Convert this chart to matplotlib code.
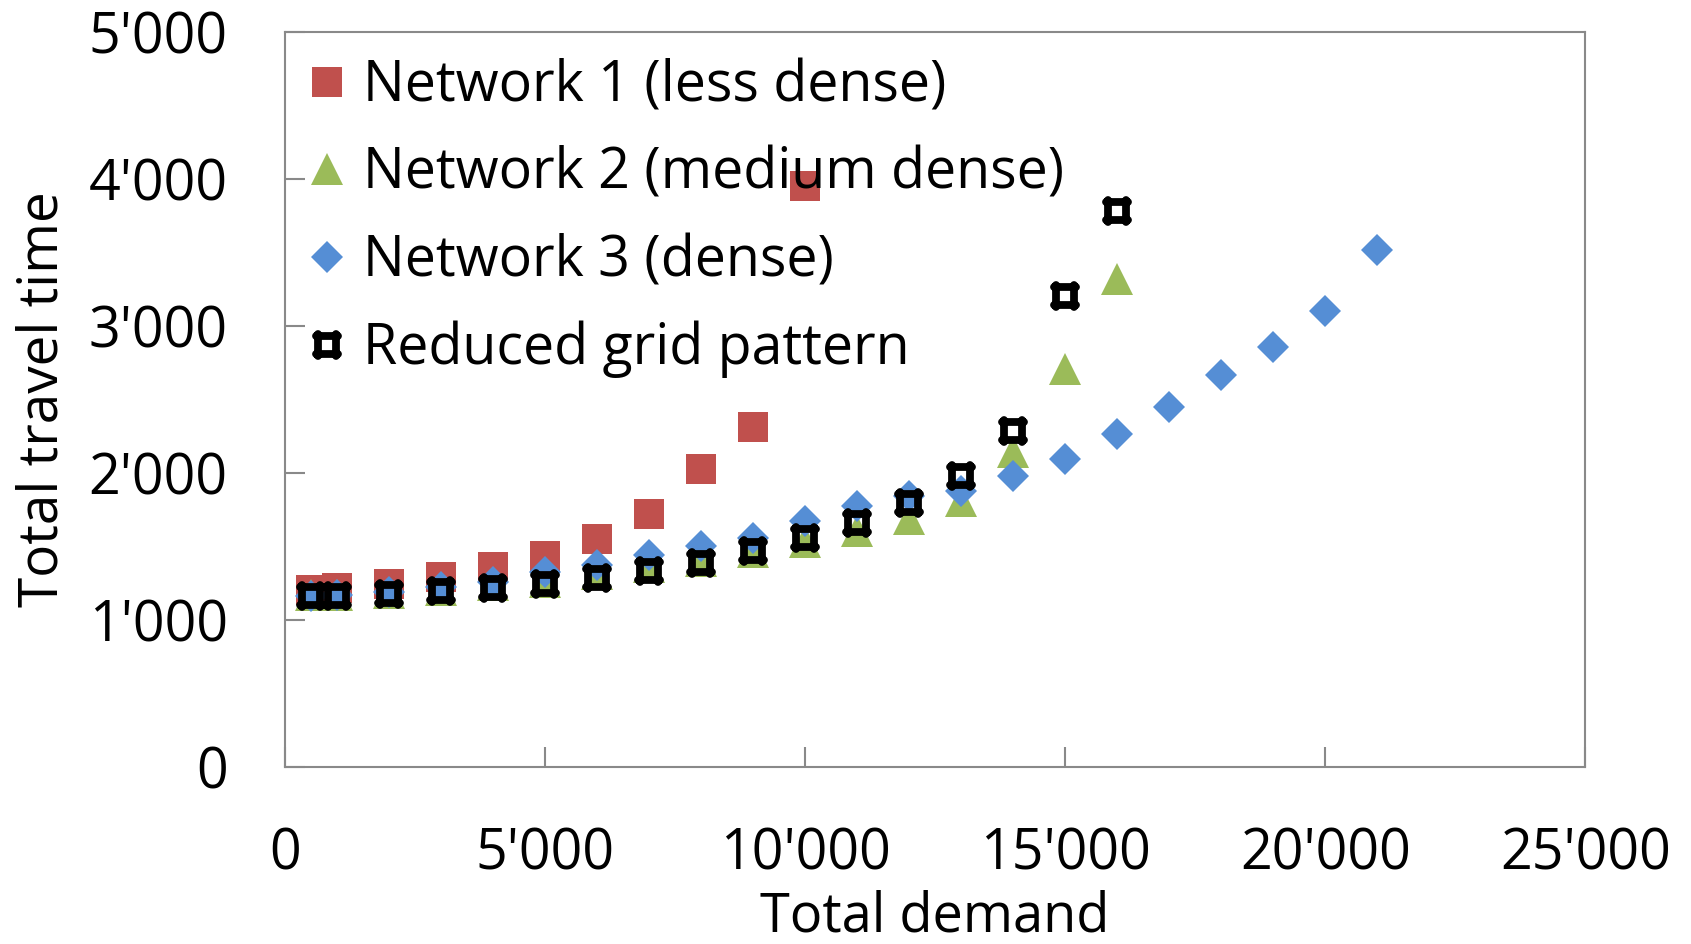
import matplotlib
matplotlib.use("Agg")
import matplotlib.pyplot as plt
from matplotlib.path import Path
from matplotlib.markers import MarkerStyle
from matplotlib.ticker import FuncFormatter

# Total demand (x) and total travel time (y) per network variant
demand_n1 = [500, 1000, 2000, 3000, 4000, 5000, 6000, 7000, 8000, 9000, 10000]
time_n1 = [1205, 1220, 1245, 1294, 1360, 1435, 1551, 1718, 2029, 2313, 3951]

demand_n2 = [500, 1000, 2000, 3000, 4000, 5000, 6000, 7000, 8000, 9000, 10000,
             11000, 12000, 13000, 14000, 15000, 16000]
time_n2 = [1172, 1172, 1185, 1205, 1235, 1258, 1314, 1360, 1398, 1462, 1530,
           1602, 1688, 1808, 2140, 2705, 3324]

demand_n3 = [500, 1000, 2000, 3000, 4000, 5000, 6000, 7000, 8000, 9000, 10000,
             11000, 12000, 13000, 14000, 15000, 16000, 17000, 18000, 19000,
             20000, 21000]
time_n3 = [1164, 1170, 1189, 1221, 1258, 1324, 1377, 1443, 1506, 1558, 1672,
           1779, 1843, 1875, 1982, 2097, 2266, 2448, 2666, 2859, 3105, 3518]

demand_grid = [500, 1000, 2000, 3000, 4000, 5000, 6000, 7000, 8000, 9000, 10000,
               11000, 12000, 13000, 14000, 15000, 16000]
time_grid = [1166, 1166, 1179, 1200, 1217, 1244, 1282, 1330, 1387, 1466, 1557,
             1657, 1798, 1978, 2288, 3205, 3784]

labels = ["Network 1 (less dense)", "Network 2 (medium dense)",
          "Network 3 (dense)", "Reduced grid pattern"]

x_ticks = [0, 5000, 10000, 15000, 20000, 25000]
y_ticks = [0, 1000, 2000, 3000, 4000, 5000]

FONT = "Open Sans"
plt.rcParams["font.family"] = [FONT, "DejaVu Sans"]

fig = plt.figure(figsize=(16.91, 9.44), dpi=100)
ax = fig.add_axes([284.7 / 1691, (944 - 766.8) / 944,
                   (1585.4 - 284.7) / 1691, (766.8 - 32.4) / 944])

# Hash-like marker: thick square outline whose sides overshoot the corners
h, e = 8.75, 10.5
verts = [(-h, -e), (-h, e), (h, -e), (h, e),
         (-e, -h), (e, -h), (-e, h), (e, h)]
codes = [Path.MOVETO, Path.LINETO] * 4
grid_marker = MarkerStyle(Path(verts, codes), capstyle="round")

ax.plot(demand_n1, time_n1, linestyle="none", marker="s", markersize=22,
        color="#C0504D", markeredgewidth=0, label=labels[0])
ax.plot(demand_n2, time_n2, linestyle="none", marker="^", markersize=23.5,
        color="#9BBB59", markeredgewidth=0, label=labels[1])
ax.plot(demand_n3, time_n3, linestyle="none", marker="D", markersize=16.8,
        color="#558ED5", markeredgewidth=0, label=labels[2])
ax.plot(demand_grid, time_grid, linestyle="none", marker=grid_marker,
        markersize=15.2, markerfacecolor="none", markeredgecolor="black",
        markeredgewidth=5.6, label=labels[3])

ax.set_xlim(x_ticks[0], x_ticks[-1])
ax.set_ylim(y_ticks[0], y_ticks[-1])
ax.set_xticks(x_ticks)
ax.set_yticks(y_ticks)
fmt = FuncFormatter(lambda v, _: f"{int(v):,}".replace(",", "'"))
ax.xaxis.set_major_formatter(fmt)
ax.yaxis.set_major_formatter(fmt)

spine_color = "#898989"
for s in ax.spines.values():
    s.set_color(spine_color)
    s.set_linewidth(1.5)
ax.tick_params(axis="both", direction="in", length=14.5, width=1.5,
               color=spine_color, labelsize=40, labelcolor="black")
ax.tick_params(axis="y", pad=41)
ax.tick_params(axis="x", pad=43)

ax.set_xlabel("Total demand", fontsize=39, labelpad=4)
ax.set_ylabel("Total travel time", fontsize=39.5, labelpad=13)

leg = ax.legend(loc="upper left", bbox_to_anchor=(0.0112, 0.9651),
                frameon=False, fontsize=40, handletextpad=0.15,
                handlelength=1.0, labelspacing=0.55, borderaxespad=0.0,
                borderpad=0.0)
for t in leg.get_texts():
    t.set_color("black")

fig.savefig("out.png", dpi=100)
